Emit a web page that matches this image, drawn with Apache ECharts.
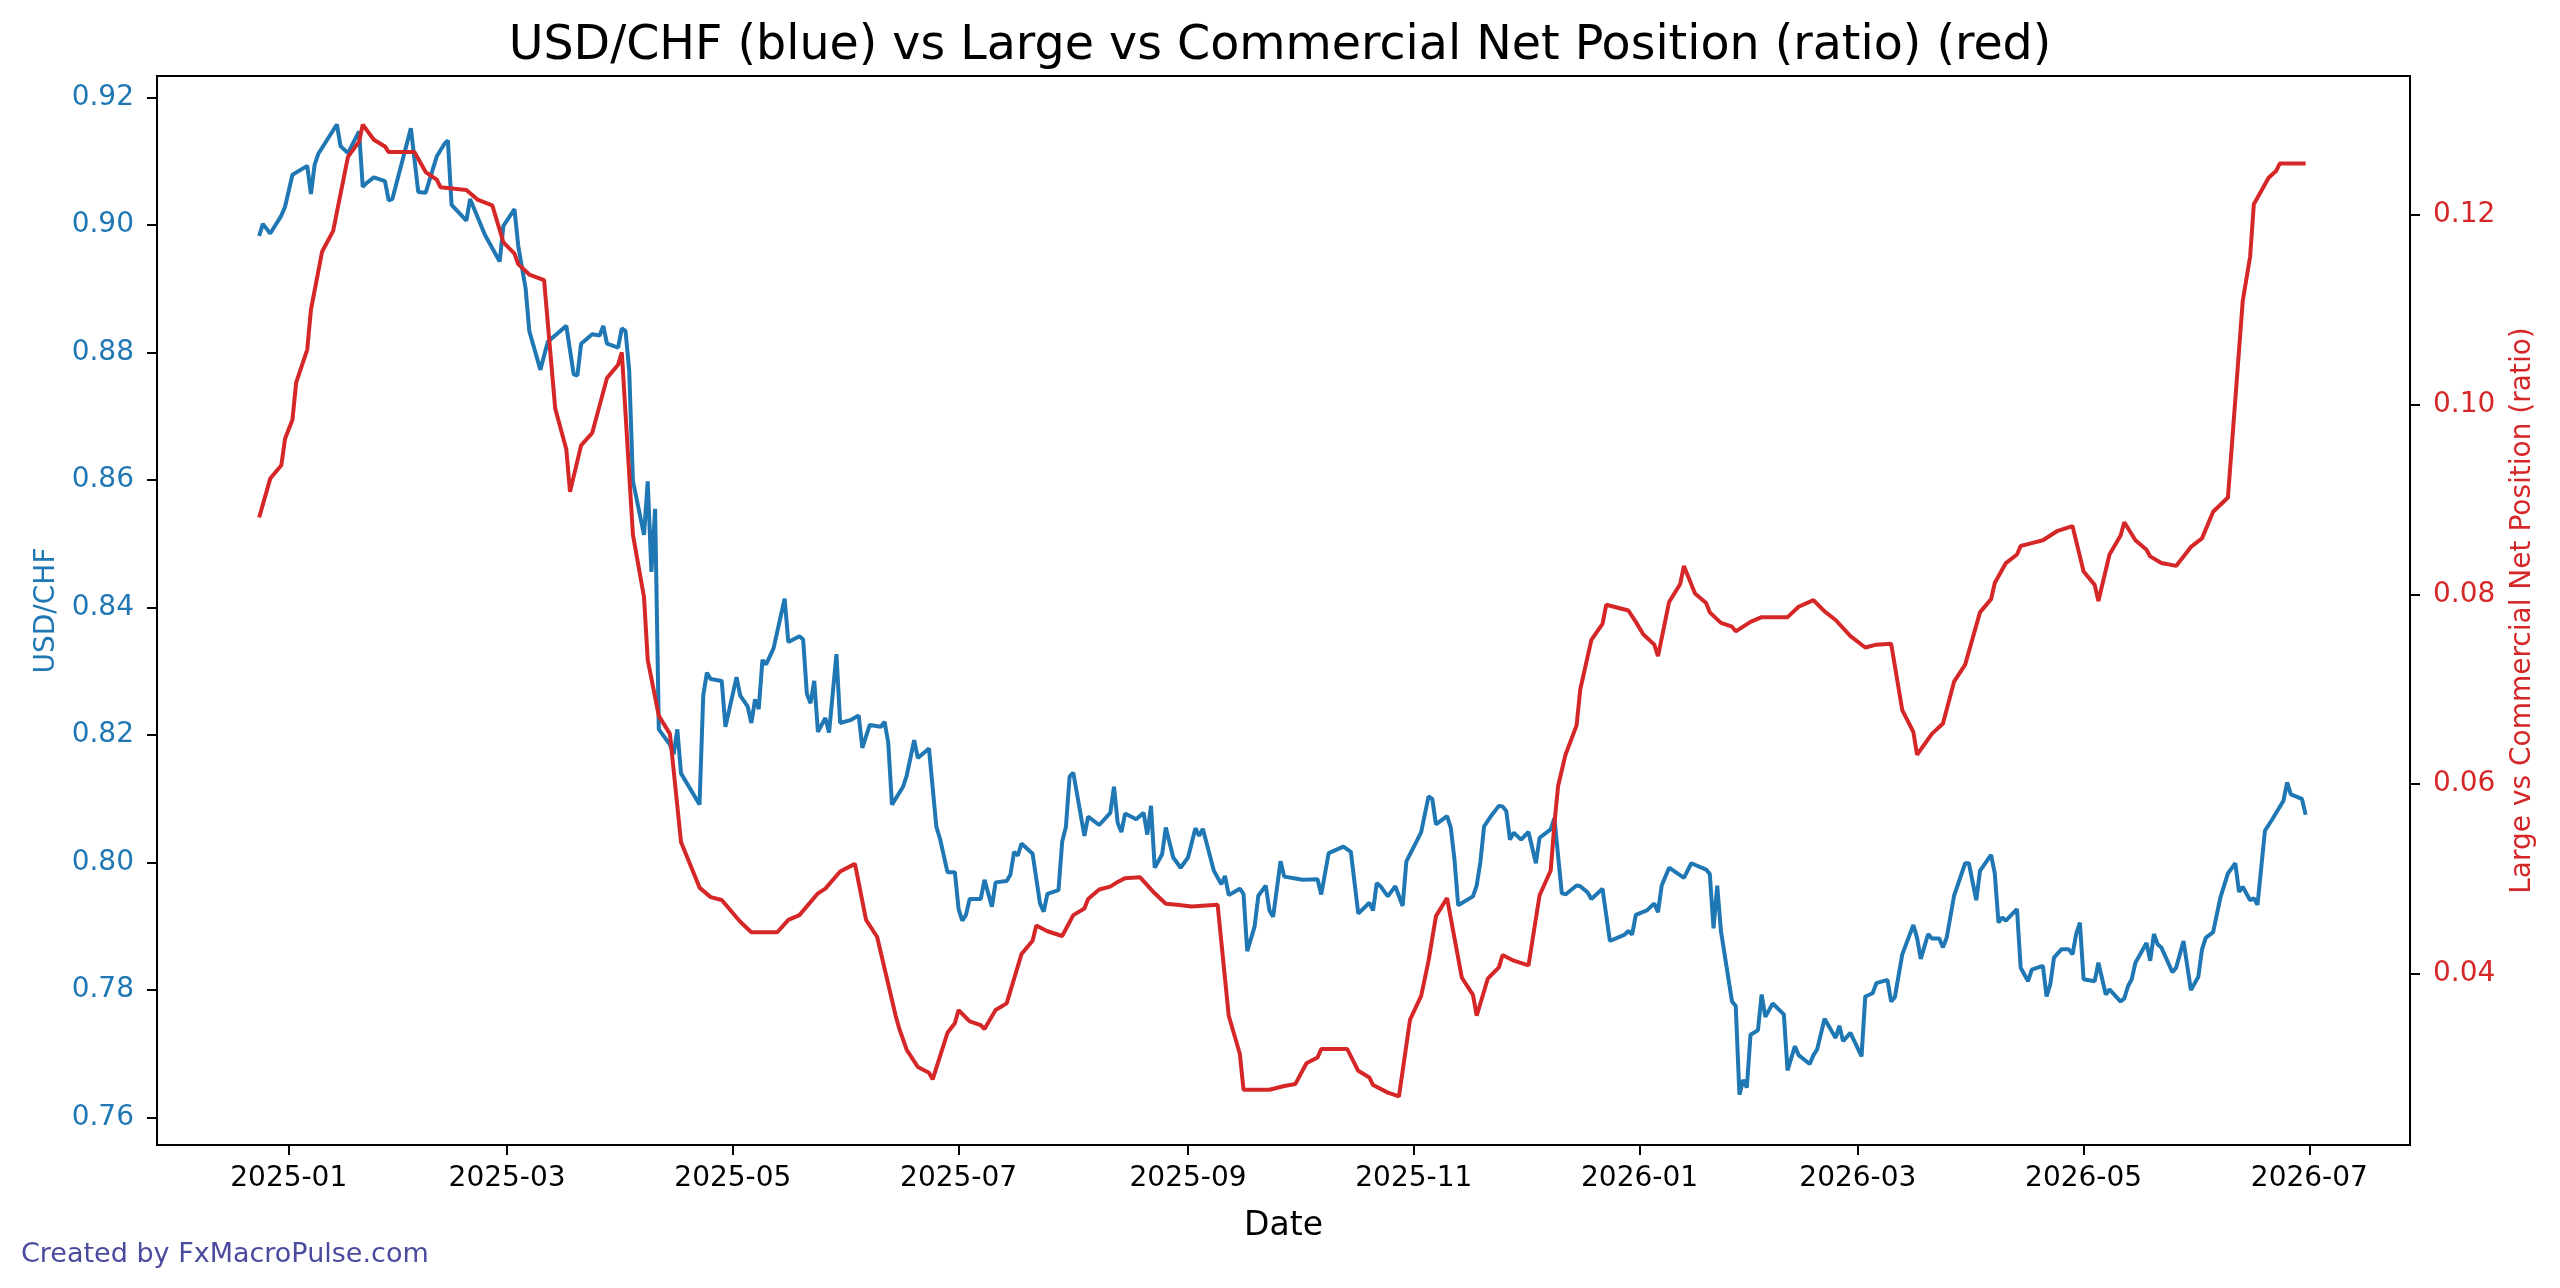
<!DOCTYPE html>
<html>
<head>
<meta charset="utf-8">
<script src="https://cdn.jsdelivr.net/npm/echarts@6/dist/echarts.min.js"></script>
<style>
  html, body { margin: 0; padding: 0; background: #fff; }
  #chart { width: 2560px; height: 1288px; }
</style>
</head>
<body>
<div id="chart"></div>
<script>
// USD/CHF daily close (sampled)
var usdDates = [
  '2024-12-24','2024-12-25','2024-12-27','2024-12-30','2024-12-31','2025-01-02','2025-01-06','2025-01-07','2025-01-08','2025-01-09',
  '2025-01-14','2025-01-15','2025-01-17','2025-01-20','2025-01-21','2025-01-22','2025-01-24','2025-01-27','2025-01-28','2025-01-29',
  '2025-02-03','2025-02-05','2025-02-07','2025-02-10','2025-02-12','2025-02-13','2025-02-14','2025-02-18','2025-02-19','2025-02-23',
  '2025-02-27','2025-02-28','2025-03-03','2025-03-04','2025-03-06','2025-03-07','2025-03-10','2025-03-12','2025-03-17','2025-03-19',
  '2025-03-20','2025-03-21','2025-03-24','2025-03-26','2025-03-27','2025-03-28','2025-03-31','2025-04-01','2025-04-02','2025-04-03',
  '2025-04-04','2025-04-07','2025-04-08','2025-04-09','2025-04-10','2025-04-11','2025-04-14','2025-04-15','2025-04-16','2025-04-17',
  '2025-04-22','2025-04-23','2025-04-24','2025-04-25','2025-04-28','2025-04-29','2025-05-02','2025-05-03','2025-05-05','2025-05-06',
  '2025-05-07','2025-05-08','2025-05-09','2025-05-10','2025-05-12','2025-05-15','2025-05-16','2025-05-19','2025-05-20','2025-05-21',
  '2025-05-22','2025-05-23','2025-05-24','2025-05-26','2025-05-27','2025-05-29','2025-05-30','2025-06-02','2025-06-04','2025-06-05',
  '2025-06-07','2025-06-10','2025-06-11','2025-06-12','2025-06-13','2025-06-16','2025-06-17','2025-06-19','2025-06-20','2025-06-23',
  '2025-06-25','2025-06-26','2025-06-28','2025-06-30','2025-07-01','2025-07-02','2025-07-03','2025-07-04','2025-07-07','2025-07-08',
  '2025-07-10','2025-07-11','2025-07-14','2025-07-15','2025-07-16','2025-07-17','2025-07-18','2025-07-21','2025-07-23','2025-07-24',
  '2025-07-25','2025-07-28','2025-07-29','2025-07-30','2025-07-31','2025-08-01','2025-08-04','2025-08-05','2025-08-08','2025-08-11',
  '2025-08-12','2025-08-13','2025-08-14','2025-08-15','2025-08-18','2025-08-20','2025-08-21','2025-08-22','2025-08-23','2025-08-25',
  '2025-08-26','2025-08-28','2025-08-30','2025-09-01','2025-09-03','2025-09-04','2025-09-05','2025-09-08','2025-09-10','2025-09-11',
  '2025-09-12','2025-09-15','2025-09-16','2025-09-17','2025-09-19','2025-09-20','2025-09-22','2025-09-23','2025-09-24','2025-09-26',
  '2025-09-27','2025-09-30','2025-10-02','2025-10-06','2025-10-07','2025-10-09','2025-10-13','2025-10-15','2025-10-17','2025-10-20',
  '2025-10-21','2025-10-22','2025-10-23','2025-10-25','2025-10-27','2025-10-29','2025-10-30','2025-11-02','2025-11-03','2025-11-05',
  '2025-11-06','2025-11-07','2025-11-10','2025-11-11','2025-11-12','2025-11-13','2025-11-17','2025-11-18','2025-11-19','2025-11-20',
  '2025-11-22','2025-11-24','2025-11-25','2025-11-26','2025-11-27','2025-11-28','2025-11-30','2025-12-02','2025-12-04','2025-12-05',
  '2025-12-08','2025-12-09','2025-12-11','2025-12-12','2025-12-15','2025-12-16','2025-12-18','2025-12-19','2025-12-22','2025-12-24',
  '2025-12-28','2025-12-29','2025-12-30','2025-12-31','2026-01-03','2026-01-05','2026-01-06','2026-01-07','2026-01-09','2026-01-13',
  '2026-01-15','2026-01-19','2026-01-20','2026-01-21','2026-01-22','2026-01-23','2026-01-26','2026-01-27','2026-01-28','2026-01-29',
  '2026-01-30','2026-01-31','2026-02-02','2026-02-03','2026-02-04','2026-02-06','2026-02-09','2026-02-10','2026-02-12','2026-02-13',
  '2026-02-16','2026-02-17','2026-02-18','2026-02-20','2026-02-23','2026-02-24','2026-02-25','2026-02-27','2026-03-02','2026-03-03',
  '2026-03-05','2026-03-06','2026-03-09','2026-03-10','2026-03-11','2026-03-13','2026-03-16','2026-03-17','2026-03-18','2026-03-20',
  '2026-03-21','2026-03-23','2026-03-24','2026-03-25','2026-03-27','2026-03-30','2026-03-31','2026-04-02','2026-04-03','2026-04-06',
  '2026-04-07','2026-04-08','2026-04-09','2026-04-10','2026-04-13','2026-04-14','2026-04-16','2026-04-17','2026-04-20','2026-04-21',
  '2026-04-22','2026-04-23','2026-04-25','2026-04-27','2026-04-28','2026-04-29','2026-04-30','2026-05-01','2026-05-04','2026-05-05',
  '2026-05-07','2026-05-08','2026-05-11','2026-05-12','2026-05-13','2026-05-14','2026-05-15','2026-05-18','2026-05-19','2026-05-20',
  '2026-05-21','2026-05-22','2026-05-25','2026-05-26','2026-05-28','2026-05-30','2026-06-01','2026-06-02','2026-06-03','2026-06-05',
  '2026-06-07','2026-06-09','2026-06-11','2026-06-12','2026-06-13','2026-06-15','2026-06-16','2026-06-17','2026-06-19','2026-06-21',
  '2026-06-24','2026-06-25','2026-06-26','2026-06-29','2026-06-30'
];
var usdValues = [
  0.8983,0.9002,0.8987,0.9015,0.9029,0.9079,0.9093,0.9049,0.9095,0.9112,
  0.9158,0.9124,0.9113,0.9147,0.9060,0.9066,0.9075,0.9069,0.9039,0.9041,
  0.9152,0.9052,0.9051,0.9108,0.9127,0.9133,0.9032,0.9007,0.9041,0.8985,
  0.8943,0.8999,0.9025,0.8968,0.8901,0.8834,0.8773,0.8817,0.8842,0.8766,
  0.8764,0.8814,0.8829,0.8827,0.8842,0.8814,0.8808,0.8838,0.8834,0.8772,
  0.8599,0.8514,0.8598,0.8456,0.8555,0.8209,0.8185,0.8170,0.8209,0.8140,
  0.8091,0.8262,0.8298,0.8288,0.8285,0.8213,0.8291,0.8262,0.8245,0.8219,
  0.8256,0.8241,0.8318,0.8311,0.8336,0.8414,0.8346,0.8355,0.8350,0.8265,
  0.8250,0.8285,0.8205,0.8227,0.8204,0.8327,0.8219,0.8224,0.8231,0.8180,
  0.8216,0.8213,0.8221,0.8188,0.8091,0.8119,0.8137,0.8192,0.8164,0.8179,
  0.8056,0.8037,0.7985,0.7985,0.7927,0.7909,0.7918,0.7943,0.7943,0.7973,
  0.7931,0.7969,0.7971,0.7981,0.8017,0.8011,0.8030,0.8014,0.7936,0.7923,
  0.7951,0.7957,0.8033,0.8056,0.8135,0.8141,0.8042,0.8072,0.8059,0.8078,
  0.8119,0.8062,0.8048,0.8077,0.8068,0.8078,0.8044,0.8089,0.7992,0.8013,
  0.8055,0.8008,0.7992,0.8008,0.8054,0.8042,0.8053,0.7987,0.7966,0.7979,
  0.7949,0.7959,0.7951,0.7861,0.7900,0.7948,0.7964,0.7925,0.7915,0.8002,
  0.7978,0.7975,0.7973,0.7974,0.7950,0.8015,0.8025,0.8017,0.7920,0.7937,
  0.7925,0.7968,0.7963,0.7947,0.7963,0.7932,0.8002,0.8036,0.8048,0.8104,
  0.8100,0.8060,0.8073,0.8055,0.8005,0.7933,0.7947,0.7964,0.8001,0.8057,
  0.8074,0.8089,0.8088,0.8081,0.8036,0.8047,0.8036,0.8048,0.7999,0.8039,
  0.8052,0.8070,0.7952,0.7950,0.7964,0.7963,0.7953,0.7943,0.7959,0.7877,
  0.7887,0.7893,0.7887,0.7918,0.7925,0.7936,0.7922,0.7964,0.7992,0.7976,
  0.7999,0.7989,0.7982,0.7897,0.7964,0.7893,0.7782,0.7775,0.7636,0.7659,
  0.7647,0.7730,0.7737,0.7793,0.7758,0.7779,0.7762,0.7674,0.7712,0.7698,
  0.7684,0.7698,0.7707,0.7755,0.7725,0.7744,0.7720,0.7733,0.7696,0.7790,
  0.7795,0.7811,0.7816,0.7782,0.7789,0.7856,0.7902,0.7882,0.7849,0.7888,
  0.7881,0.7881,0.7867,0.7882,0.7948,0.7999,0.7999,0.7941,0.7987,0.8012,
  0.7983,0.7906,0.7914,0.7909,0.7927,0.7835,0.7814,0.7832,0.7838,0.7790,
  0.7809,0.7851,0.7864,0.7864,0.7856,0.7888,0.7906,0.7817,0.7814,0.7843,
  0.7793,0.7801,0.7782,0.7787,0.7806,0.7817,0.7843,0.7874,0.7846,0.7888,
  0.7872,0.7867,0.7828,0.7835,0.7877,0.7800,0.7821,0.7864,0.7882,0.7891,
  0.7946,0.7983,0.7999,0.7954,0.7962,0.7941,0.7944,0.7934,0.8050,0.8068,
  0.8097,0.8126,0.8107,0.8100,0.8075
];

// Large vs Commercial net position ratio
var cotDates = [
  '2024-12-24','2024-12-27','2024-12-30','2024-12-31','2025-01-02','2025-01-03','2025-01-06','2025-01-07','2025-01-10','2025-01-13',
  '2025-01-17','2025-01-20','2025-01-21','2025-01-24','2025-01-27','2025-01-28','2025-02-04','2025-02-07','2025-02-10','2025-02-11',
  '2025-02-18','2025-02-21','2025-02-25','2025-02-28','2025-03-03','2025-03-04','2025-03-07','2025-03-11','2025-03-14','2025-03-17',
  '2025-03-18','2025-03-21','2025-03-24','2025-03-28','2025-03-31','2025-04-01','2025-04-04','2025-04-07','2025-04-08','2025-04-11',
  '2025-04-14','2025-04-17','2025-04-22','2025-04-25','2025-04-28','2025-05-03','2025-05-06','2025-05-13','2025-05-16','2025-05-19',
  '2025-05-24','2025-05-26','2025-05-30','2025-06-03','2025-06-06','2025-06-09','2025-06-14','2025-06-15','2025-06-17','2025-06-20',
  '2025-06-23','2025-06-24','2025-06-28','2025-06-30','2025-07-01','2025-07-04','2025-07-07','2025-07-08','2025-07-11','2025-07-14',
  '2025-07-18','2025-07-21','2025-07-22','2025-07-25','2025-07-29','2025-08-01','2025-08-04','2025-08-05','2025-08-08','2025-08-11',
  '2025-08-13','2025-08-15','2025-08-19','2025-08-23','2025-08-26','2025-08-29','2025-09-02','2025-09-09','2025-09-12','2025-09-15',
  '2025-09-16','2025-09-23','2025-09-27','2025-09-30','2025-10-03','2025-10-06','2025-10-07','2025-10-14','2025-10-17','2025-10-20',
  '2025-10-21','2025-10-25','2025-10-28','2025-10-31','2025-11-03','2025-11-05','2025-11-07','2025-11-10','2025-11-14','2025-11-17',
  '2025-11-18','2025-11-21','2025-11-24','2025-11-25','2025-11-28','2025-12-02','2025-12-05','2025-12-08','2025-12-09','2025-12-10',
  '2025-12-12','2025-12-15','2025-12-16','2025-12-19','2025-12-22','2025-12-23','2025-12-29','2025-12-31','2026-01-02','2026-01-05',
  '2026-01-06','2026-01-09','2026-01-12','2026-01-13','2026-01-16','2026-01-19','2026-01-20','2026-01-23','2026-01-26','2026-01-27',
  '2026-01-31','2026-02-03','2026-02-10','2026-02-13','2026-02-17','2026-02-20','2026-02-23','2026-02-27','2026-03-03','2026-03-06',
  '2026-03-10','2026-03-13','2026-03-16','2026-03-17','2026-03-21','2026-03-24','2026-03-27','2026-03-30','2026-04-03','2026-04-06',
  '2026-04-07','2026-04-10','2026-04-13','2026-04-14','2026-04-17','2026-04-20','2026-04-24','2026-04-28','2026-05-01','2026-05-04',
  '2026-05-05','2026-05-08','2026-05-11','2026-05-12','2026-05-15','2026-05-18','2026-05-19','2026-05-22','2026-05-26','2026-05-30',
  '2026-06-02','2026-06-05','2026-06-09','2026-06-13','2026-06-15','2026-06-16','2026-06-20','2026-06-22','2026-06-23','2026-06-30'
];
var cotValues = [
  0.0881,0.0922,0.0936,0.0964,0.0984,0.1023,0.1058,0.1100,0.1161,0.1183,
  0.1261,0.1277,0.1295,0.1279,0.1272,0.1266,0.1266,0.1245,0.1237,0.1229,
  0.1226,0.1216,0.1210,0.1171,0.1159,0.1148,0.1137,0.1131,0.0996,0.0953,
  0.0908,0.0957,0.0970,0.1028,0.1042,0.1055,0.0863,0.0797,0.0731,0.0672,
  0.0653,0.0539,0.0491,0.0481,0.0478,0.0455,0.0444,0.0444,0.0457,0.0462,
  0.0485,0.0490,0.0508,0.0516,0.0457,0.0439,0.0356,0.0342,0.0320,0.0302,
  0.0296,0.0289,0.0338,0.0348,0.0362,0.0350,0.0346,0.0342,0.0362,0.0369,
  0.0421,0.0435,0.0451,0.0445,0.0440,0.0462,0.0469,0.0479,0.0489,0.0492,
  0.0497,0.0501,0.0502,0.0485,0.0474,0.0473,0.0471,0.0473,0.0356,0.0316,
  0.0278,0.0278,0.0282,0.0284,0.0306,0.0312,0.0321,0.0321,0.0298,0.0291,
  0.0283,0.0275,0.0271,0.0352,0.0377,0.0414,0.0461,0.0480,0.0396,0.0378,
  0.0356,0.0395,0.0407,0.0420,0.0414,0.0409,0.0483,0.0509,0.0558,0.0598,
  0.0631,0.0662,0.0700,0.0752,0.0769,0.0789,0.0783,0.0771,0.0758,0.0747,
  0.0735,0.0792,0.0811,0.0830,0.0801,0.0791,0.0781,0.0770,0.0766,0.0761,
  0.0771,0.0776,0.0776,0.0787,0.0794,0.0782,0.0773,0.0756,0.0744,0.0747,
  0.0748,0.0678,0.0655,0.0631,0.0653,0.0664,0.0708,0.0726,0.0781,0.0795,
  0.0812,0.0833,0.0842,0.0851,0.0854,0.0857,0.0867,0.0872,0.0824,0.0810,
  0.0793,0.0842,0.0862,0.0876,0.0857,0.0847,0.0840,0.0833,0.0830,0.0850,
  0.0859,0.0887,0.0902,0.1109,0.1156,0.1211,0.1239,0.1246,0.1254,0.1254
];

var xTickLabels = ['2025-01','2025-03','2025-05','2025-07','2025-09','2025-11','2026-01','2026-03','2026-05','2026-07'];
var leftTicks = [0.76, 0.78, 0.80, 0.82, 0.84, 0.86, 0.88, 0.90, 0.92];
var rightTicks = [0.04, 0.06, 0.08, 0.10, 0.12];

(function(){
  var DAY = 86400000,
      blue = '#1f77b4',
      red = '#d62728',
      font = 'DejaVu Sans';

  var toTime = function(s){ return new Date(s + 'T00:00:00').getTime(); };
  var t0 = toTime('2025-01-01');
  var xTicks = xTickLabels.map(function(s){ return toTime(s + '-01'); });

  var usdData = usdDates.map(function(d, i){ return [toTime(d), usdValues[i]]; });
  var cotData = cotDates.map(function(d, i){ return [toTime(d), cotValues[i]]; });

  var fmt2 = function(v){ return Number(v).toFixed(2); };

  var yAxisBase = function(side, color, name, ticks, min, max, gap){
    return {
      type: 'value',
      position: side,
      min: min,
      max: max,
      name: name,
      nameLocation: 'middle',
      nameGap: gap,
      nameTextStyle: { color: color, fontSize: 28, fontFamily: font },
      axisLine: { show: true, lineStyle: { color: '#000', width: 2 } },
      axisTick: { show: true, length: 10, lineStyle: { color: '#000', width: 2 }, customValues: ticks },
      axisLabel: { color: color, fontSize: 28, fontFamily: font, margin: 23, formatter: fmt2, customValues: ticks },
      splitLine: { show: false }
    };
  };

  var myChart = echarts.init(document.getElementById('chart'), null, { renderer: 'canvas' });
  var option = {
    animation: false,
    backgroundColor: '#fff',
    title: {
      text: 'USD/CHF (blue) vs Large vs Commercial Net Position (ratio) (red)',
      left: 'center',
      top: 18,
      textStyle: { fontSize: 47.5, fontWeight: 'normal', color: '#000', fontFamily: font }
    },
    grid: {
      left: 157, right: 150, top: 76, bottom: 143,
      containLabel: false,
      show: true,
      borderColor: '#000',
      borderWidth: 2
    },
    xAxis: {
      type: 'value',
      min: t0 - 35.6 * DAY,
      max: t0 + 573.2 * DAY,
      name: 'Date',
      nameLocation: 'middle',
      nameGap: 65,
      nameTextStyle: { color: '#000', fontSize: 33, fontFamily: font },
      axisLine: { show: true, lineStyle: { color: '#000', width: 2 } },
      axisTick: { show: true, length: 10, lineStyle: { color: '#000', width: 2 }, customValues: xTicks },
      axisLabel: {
        color: '#000', fontSize: 28, fontFamily: font, margin: 20,
        customValues: xTicks,
        formatter: function(v){
          var i = xTicks.indexOf(v);
          return i >= 0 ? xTickLabels[i] : '';
        }
      },
      splitLine: { show: false }
    },
    yAxis: [
      yAxisBase('left', blue, 'USD/CHF', leftTicks, 0.7557, 0.9234, 96),
      yAxisBase('right', red, 'Large vs Commercial Net Position (ratio)', rightTicks, 0.02198, 0.13462, 99)
    ],
    graphic: [{
      type: 'text',
      left: 21,
      top: 1241,
      style: { text: 'Created by FxMacroPulse.com', fill: '#4a4a9e', fontSize: 27, fontFamily: font }
    }],
    series: [
      {
        name: 'USD/CHF',
        type: 'line',
        yAxisIndex: 0,
        data: usdData,
        showSymbol: false,
        lineStyle: { color: blue, width: 4 },
        itemStyle: { color: blue }
      },
      {
        name: 'Large vs Commercial Net Position (ratio)',
        type: 'line',
        yAxisIndex: 1,
        data: cotData,
        showSymbol: false,
        lineStyle: { color: red, width: 4 },
        itemStyle: { color: red }
      }
    ]
  };

  myChart.setOption(option);
})();
</script>
</body>
</html>
